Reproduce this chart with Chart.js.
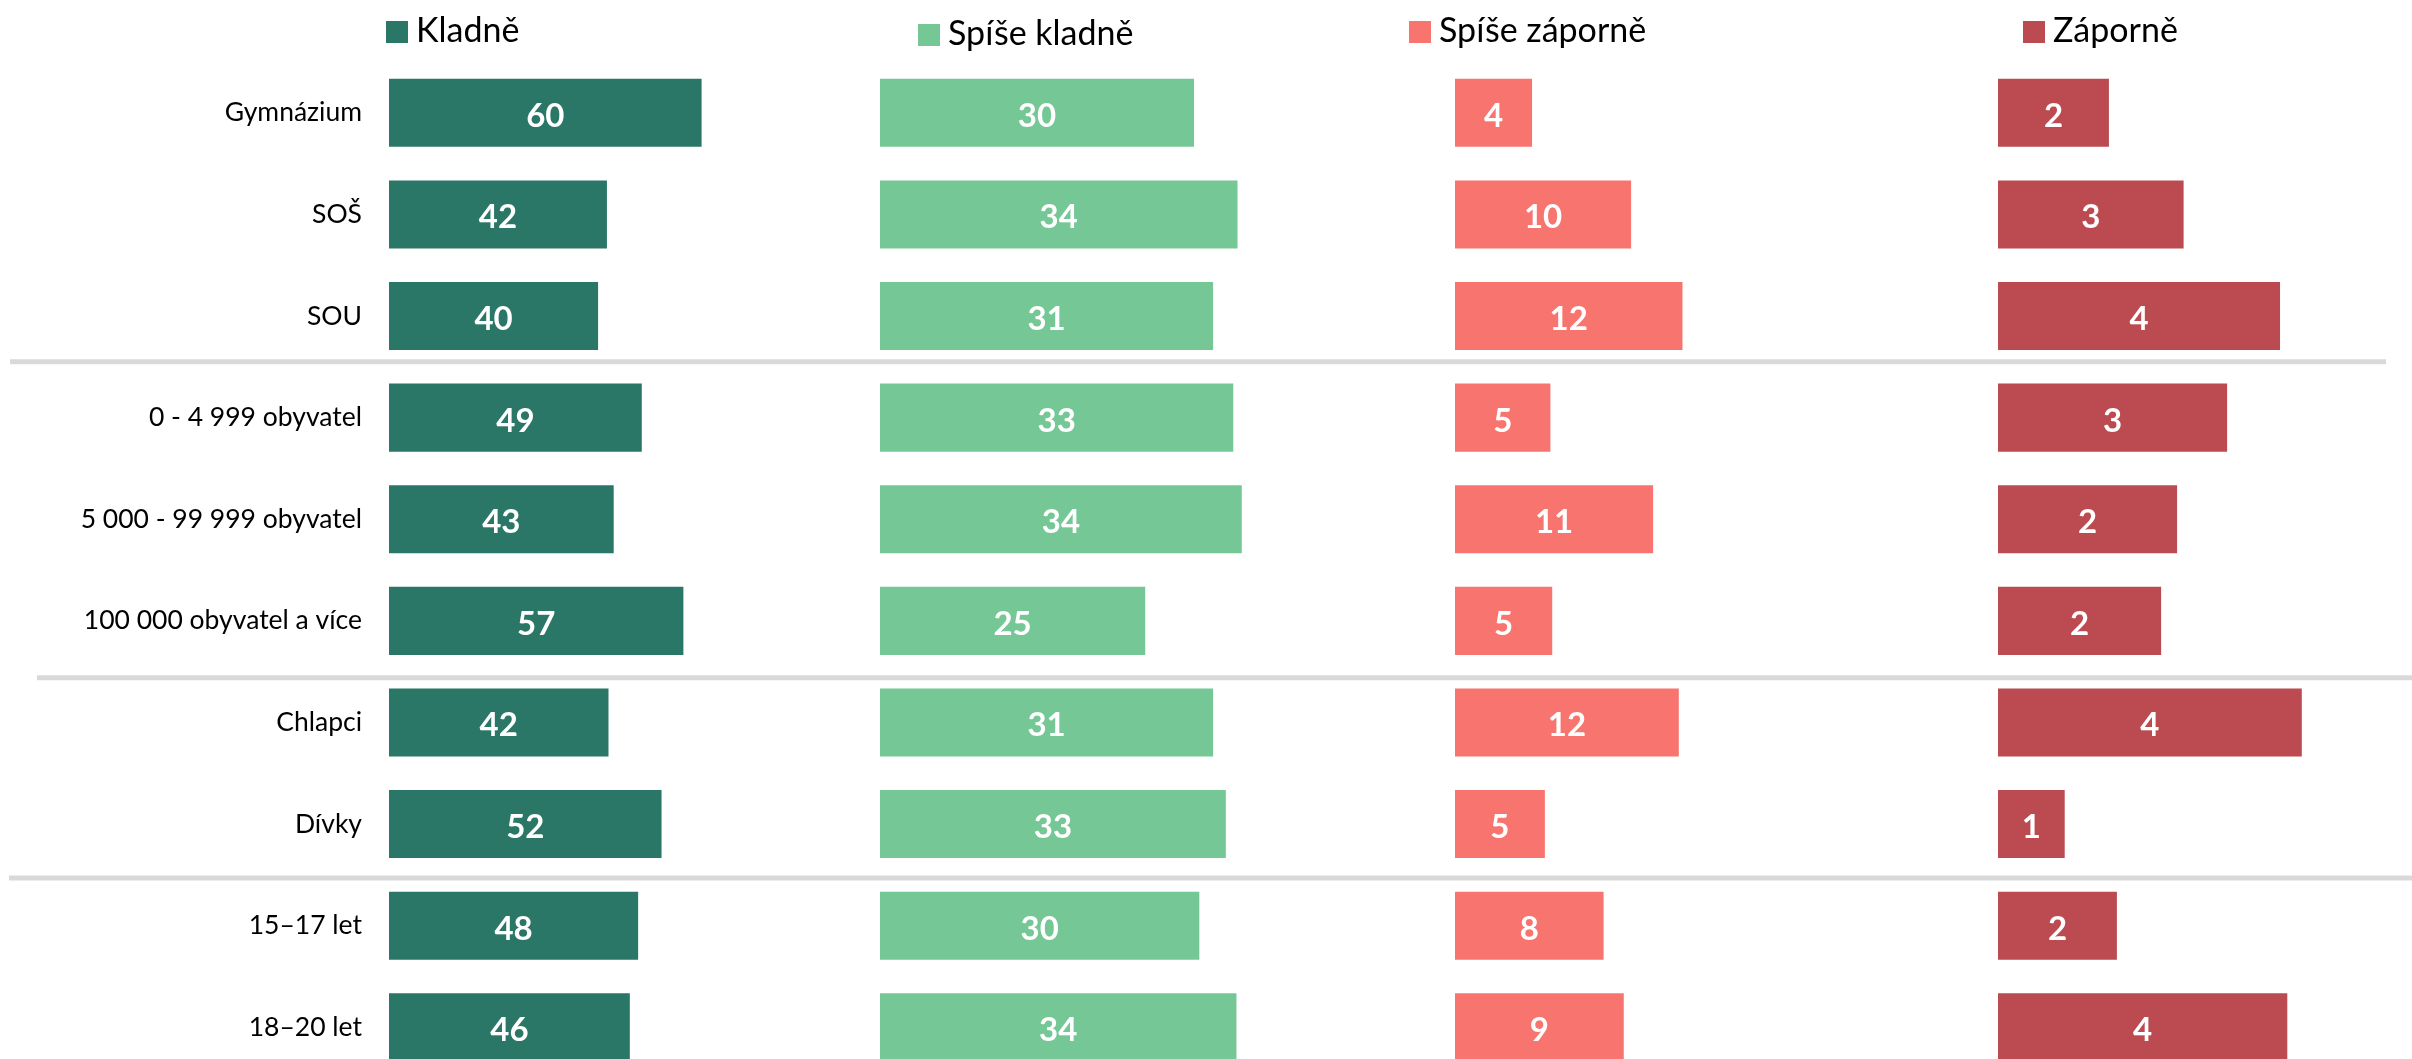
<!DOCTYPE html>
<html>
<head>
<meta charset="utf-8">
<script src="https://cdn.jsdelivr.net/npm/chart.js@4.4.1/dist/chart.umd.min.js"></script>
<style>
  html, body { margin: 0; padding: 0; background: #fff; overflow: hidden; }
  #wrap { position: relative; width: 2412px; height: 1121px; }
</style>
</head>
<body>
<div id="wrap"><canvas id="chart"></canvas></div>
<script>
let categories = ['Gymnázium', 'SOŠ', 'SOU', '0 - 4 999 obyvatel', '5 000 - 99 999 obyvatel',
  '100 000 obyvatel a více', 'Chlapci', 'Dívky', '15–17 let', '18–20 let']
let seriesNames = ['Kladně', 'Spíše kladně', 'Spíše záporně', 'Záporně']
let kladne = [60.1, 41.9, 40.2, 48.6, 43.2, 56.6, 42.2, 52.4, 47.9, 46.3]
let spiseKladne = [29.6, 33.7, 31.4, 33.3, 34.1, 25.0, 31.4, 32.6, 30.1, 33.6]
let spiseZaporne = [4.2, 9.6, 12.4, 5.2, 10.8, 5.3, 12.2, 4.9, 8.1, 9.2]
let zaporne = [1.53, 2.56, 3.89, 3.16, 2.47, 2.25, 4.19, 0.92, 1.64, 3.99]
// index of the first category of each new group
let groupBreaks = [3, 6, 8]

let colors = ['#2a7667', '#76c796', '#f8746f', '#bc4b51']
// each panel has its own value axis, stacked side by side
let panelWidths = [491, 575, 543, 414]
let panelMax = [94.4, 54.2, 29.6, 5.71]

// legend square + text for each panel, drawn above its bars
const panelLegend = {
  id: 'panelLegend',
  afterDraw(chart, args, opts) {
    const ctx = chart.ctx
    ctx.save()
    chart.data.datasets.forEach((ds, i) => {
      const axis = chart.scales[ds.xAxisID]
      const x = axis.left + opts.offsets[i]
      const y = opts.tops[i]
      ctx.fillStyle = ds.backgroundColor
      ctx.fillRect(x, y, opts.box, opts.box)
      ctx.fillStyle = '#000'
      ctx.font = opts.font
      ctx.textBaseline = 'alphabetic'
      ctx.fillText(ds.label, x + opts.box + opts.gap, y + opts.box - 1)
    })
    ctx.restore()
  }
}

// rounded value in the middle of each bar
const barValues = {
  id: 'barValues',
  afterDatasetsDraw(chart, args, opts) {
    const ctx = chart.ctx
    ctx.save()
    ctx.font = opts.font
    ctx.fillStyle = '#fff'
    ctx.textAlign = 'center'
    ctx.textBaseline = 'alphabetic'
    chart.data.datasets.forEach((ds, i) => {
      chart.getDatasetMeta(i).data.forEach((bar, j) => {
        ctx.fillText(Math.round(ds.data[j]), (bar.x + bar.base) / 2, bar.y + opts.shift)
      })
    })
    ctx.restore()
  }
}

// grey lines between the category groups
const groupLines = {
  id: 'groupLines',
  beforeDatasetsDraw(chart, args, opts) {
    const ctx = chart.ctx
    const y = chart.scales.y
    ctx.save()
    ctx.strokeStyle = opts.color
    ctx.lineWidth = opts.width
    groupBreaks.forEach((b, k) => {
      const py = y.getPixelForValue(b - 0.5) + opts.nudge[k]
      ctx.beginPath()
      ctx.moveTo(opts.starts[k], py)
      ctx.lineTo(opts.ends[k], py)
      ctx.stroke()
    })
    ctx.restore()
  }
}

let seriesData = [kladne, spiseKladne, spiseZaporne, zaporne]

let scales = {
  y: {
    position: 'left',
    grid: { display: false, drawTicks: false },
    border: { display: false },
    ticks: { font: { family: 'Lato', size: 26.5 }, color: '#000', padding: 27 },
    afterFit(s) { s.width = 389 }
  }
}
seriesData.forEach((d, i) => {
  scales['x' + i] = {
    type: 'linear',
    position: 'bottom',
    stack: 'panels',
    stackWeight: panelWidths[i],
    min: 0,
    max: panelMax[i],
    display: false
  }
})

let chart = new Chart(document.getElementById('chart').getContext('2d'), {
  type: 'bar',
  data: {
    labels: categories,
    datasets: seriesData.map((d, i) => ({
      label: seriesNames[i],
      data: d,
      xAxisID: 'x' + i,
      backgroundColor: colors[i],
      grouped: false,
      barPercentage: 0.67,
      categoryPercentage: 1
    }))
  },
  options: {
    indexAxis: 'y',
    responsive: true,
    maintainAspectRatio: false,
    animation: false,
    layout: { padding: { top: 62, bottom: 0, left: 0, right: 0 } },
    scales: scales,
    plugins: {
      legend: { display: false },
      tooltip: { enabled: false },
      panelLegend: { offsets: [-3, 38, -46, 25], tops: [21, 24, 21, 21], box: 22, gap: 8, font: '34px Lato' },
      barValues: { font: 'bold 33px Lato', shift: 14 },
      groupLines: { color: '#d9d9d9', width: 5, starts: [10, 37, 9], ends: [2386, 2412, 2412], nudge: [-5, 6, 3] }
    }
  },
  plugins: [panelLegend, barValues, groupLines]
})
</script>
</body>
</html>
